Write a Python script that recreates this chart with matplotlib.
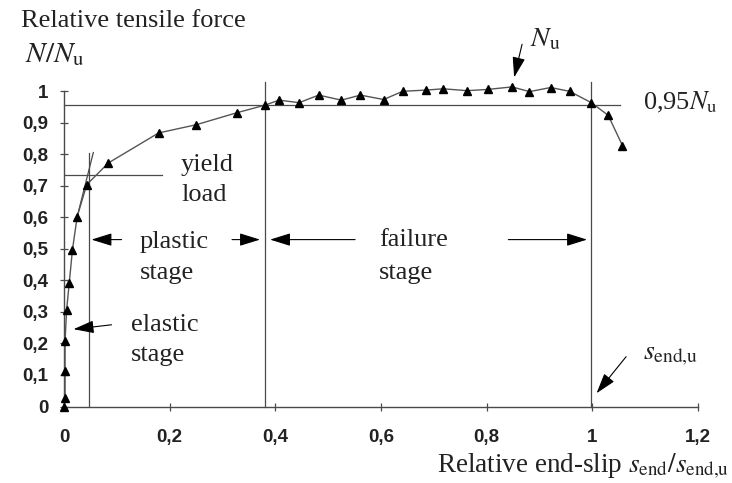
import matplotlib
matplotlib.use("Agg")
import matplotlib.pyplot as plt
import numpy as np

# ── Datos ─────────────────────────────────────────────────
slip = [0.0, 0.002, 0.002, 0.002, 0.005, 0.010, 0.016, 0.025, 0.043,
        0.084, 0.179, 0.250, 0.327, 0.380, 0.407, 0.445, 0.482, 0.525,
        0.561, 0.605, 0.641, 0.686, 0.718, 0.763, 0.802, 0.848, 0.881,
        0.921, 0.957, 0.998, 1.030, 1.057]
fuerza = [0.0, 0.027, 0.113, 0.208, 0.307, 0.393, 0.497, 0.602, 0.703,
          0.772, 0.867, 0.893, 0.931, 0.955, 0.971, 0.963, 0.987, 0.971,
          0.987, 0.973, 0.999, 1.003, 1.007, 1.001, 1.005, 1.013, 0.998,
          1.011, 0.999, 0.963, 0.923, 0.827]

x_ticks = [0, 0.2, 0.4, 0.6, 0.8, 1.0, 1.2]
x_labels = ["0", "0,2", "0,4", "0,6", "0,8", "1", "1,2"]
y_ticks = [0, 0.1, 0.2, 0.3, 0.4, 0.5, 0.6, 0.7, 0.8, 0.9, 1.0]
y_labels = ["0", "0,1", "0,2", "0,3", "0,4", "0,5", "0,6", "0,7", "0,8", "0,9", "1"]

nivel_095 = 0.957     # línea 0,95 Nu
nivel_fluencia = 0.733
s_fluencia = 0.048
s_plastico = 0.38
s_ultimo = 0.998

W, H = 732, 483
plt.rcParams["mathtext.fontset"] = "stix"
SERIF = "Liberation Serif"
GRIS = "#4a4a4a"

fig = plt.figure(figsize=(W / 100, H / 100), dpi=100)
fig.patch.set_facecolor("white")
ax = fig.add_axes([64 / W, 1 - 406.5 / H, 634 / W, 315.5 / H])
ax.set_xlim(0, 1.2)
ax.set_ylim(0, 1)

for s in ["top", "right"]:
    ax.spines[s].set_visible(False)
for s in ["left", "bottom"]:
    ax.spines[s].set_color(GRIS)
    ax.spines[s].set_linewidth(1.0)

ax.set_xticks(x_ticks)
ax.set_xticklabels(x_labels)
ax.set_yticks(y_ticks)
ax.set_yticklabels(y_labels)
ax.tick_params(axis="both", direction="inout", length=6, width=0.9, color=GRIS,
               labelsize=13.5, labelcolor="#222222")
ax.tick_params(axis="x", pad=13)
ax.tick_params(axis="y", pad=8)
for lbl in ax.get_xticklabels() + ax.get_yticklabels():
    lbl.set_family("Liberation Sans")
    lbl.set_weight("bold")

# ── Líneas auxiliares ──
ax.plot([0, 1.053], [nivel_095, nivel_095], color=GRIS, lw=0.9, clip_on=False)
ax.plot([0, 0.185], [nivel_fluencia, nivel_fluencia], color=GRIS, lw=0.9)
ax.plot([s_fluencia, s_fluencia], [0, 0.805], color=GRIS, lw=0.9)
ax.plot([slip[7], 0.0555], [fuerza[7], 0.805], color=GRIS, lw=0.9)
ax.plot([s_plastico, s_plastico], [0, 1.03], color=GRIS, lw=0.9, clip_on=False)
ax.plot([s_ultimo, s_ultimo], [0, 1.03], color=GRIS, lw=0.9, clip_on=False)

# ── Curva ──
ax.plot(slip, fuerza, color="#555555", lw=1.0, marker="^", markersize=5.5,
        markerfacecolor="black", markeredgecolor="black", clip_on=False, zorder=5)

# ── Flechas ──
flecha = dict(arrowstyle="-|>,head_length=0.9,head_width=0.28", color="black",
              lw=0.8, shrinkA=0, shrinkB=0, mutation_scale=14)
y_fl = 0.529
ax.annotate("", xy=(0.052, y_fl), xytext=(0.109, y_fl), arrowprops=flecha)
ax.annotate("", xy=(0.371, y_fl), xytext=(0.318, y_fl), arrowprops=flecha)
ax.annotate("", xy=(0.39, y_fl), xytext=(0.551, y_fl), arrowprops=flecha)
ax.annotate("", xy=(0.99, y_fl), xytext=(0.841, y_fl), arrowprops=flecha)
ax.annotate("", xy=(0.018, 0.245), xytext=(0.09, 0.259), arrowprops=flecha)
ax.annotate("", xy=(0.852, 1.043), xytext=(0.867, 1.148), arrowprops=flecha,
            annotation_clip=False)
ax.annotate("", xy=(1.008, 0.042), xytext=(1.064, 0.158), arrowprops=flecha)


def texto(x, y, s, **kw):
    """Coloca texto en coordenadas de píxel de la figura."""
    kw.setdefault("family", SERIF)
    kw.setdefault("color", "#222222")
    fig.text(x / W, 1 - y / H, s, **kw)


texto(21, 21, "Relative tensile force", fontsize=19, va="center")
texto(25, 55, r"$N/N_{\mathrm{u}}$", fontsize=21, va="center")
texto(181, 165, "yield", fontsize=19, va="center")
texto(181, 195, "load", fontsize=19, va="center")
texto(140, 242, "plastic", fontsize=19, va="center")
texto(140, 273, "stage", fontsize=19, va="center")
texto(379, 240, "failure", fontsize=19, va="center")
texto(379, 273, "stage", fontsize=19, va="center")
texto(131, 325, "elastic", fontsize=19, va="center")
texto(131, 355, "stage", fontsize=19, va="center")
texto(530, 40, r"$N_{\mathrm{u}}$", fontsize=20, va="center")
texto(643, 102, r"0,95$N_{\mathrm{u}}$", fontsize=19, va="center")
texto(643, 355, r"$s_{\mathrm{end{,}u}}$", fontsize=20, va="center")
texto(729, 466, r"Relative end-slip $s_{\mathrm{end}}/s_{\mathrm{end{,}u}}$",
      fontsize=19.5, va="center", ha="right")

plt.savefig("out.png", dpi=100, facecolor=fig.get_facecolor())
plt.close(fig)
